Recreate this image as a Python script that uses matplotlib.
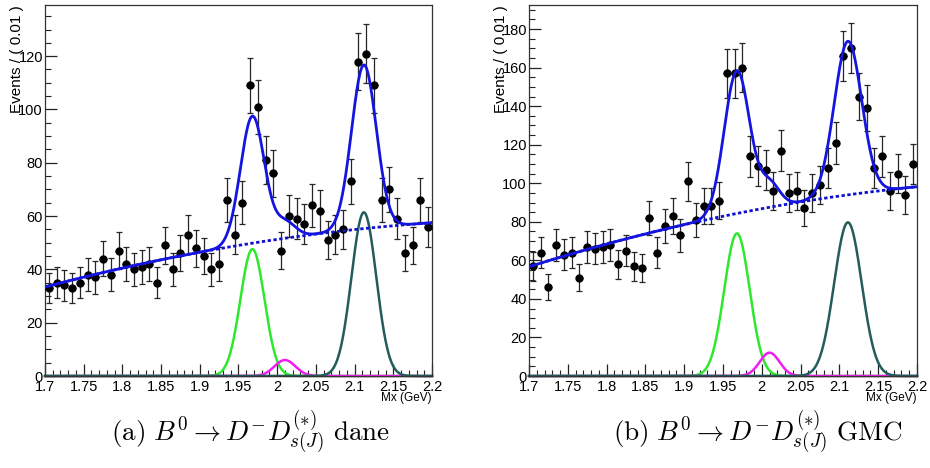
import numpy as np
import matplotlib
matplotlib.use("Agg")
import matplotlib.pyplot as plt
from matplotlib.ticker import MultipleLocator, FixedLocator

plt.rcParams['font.family'] = ['Liberation Sans', 'DejaVu Sans']
plt.rcParams['mathtext.fontset'] = 'cm'

# Histogram binning of the Mx spectrum
mx_min, mx_max, n_bins = 1.7, 2.2, 50

# Events per 0.01 GeV bin
counts_dane = [33, 35, 34, 33, 35, 38, 37, 44, 38, 47,
               42, 40, 41, 42, 35, 49, 40, 46, 53, 48,
               45, 40, 42, 66, 53, 65, 109, 101, 81, 76,
               47, 60, 59, 57, 64, 62, 51, 53, 55, 73,
               118, 121, 109, 66, 70, 59, 46, 49, 66, 56]

counts_gmc = [57, 64, 46, 68, 63, 64, 51, 67, 66, 67,
              68, 58, 65, 57, 56, 82, 64, 78, 83, 73,
              101, 81, 88, 88, 91, 157, 157, 160, 114, 109,
              107, 96, 117, 95, 96, 87, 95, 99, 108, 121,
              166, 170, 145, 139, 108, 114, 96, 105, 94, 110]

# Fit model: quadratic background in (Mx - 1.7) plus three Gaussian peaks
bkg_dane = [33.4, 76.6, -56.8]
bkg_gmc = [56.7, 126.5, -87.0]

# (mean, sigma, height) for the Ds, Ds* reflection and Ds(J) components
peaks_dane = {"ds": (1.968, 0.0155, 47.6),
              "refl": (2.010, 0.0135, 6.0),
              "dsj": (2.112, 0.0160, 61.4)}
peaks_gmc = {"ds": (1.968, 0.0164, 74.0),
             "refl": (2.010, 0.0128, 12.1),
             "dsj": (2.111, 0.0177, 79.7)}

y_max_dane = 139.2
y_max_gmc = 192.5

captions = [r"$\mathrm{(a)}\ B^0 \rightarrow D^{-} D_{s(J)}^{(*)}\ \mathrm{dane}$",
            r"$\mathrm{(b)}\ B^0 \rightarrow D^{-} D_{s(J)}^{(*)}\ \mathrm{GMC}$"]

comp_colors = {"ds": "#2ee82e", "refl": "#f01ef0", "dsj": "#245c5c"}


def gauss(x, mu, sig, h):
    return h * np.exp(-0.5 * ((x - mu) / sig) ** 2)


def draw_panel(ax, counts, bkg, peaks, ymax):
    edges = np.linspace(mx_min, mx_max, n_bins + 1)
    centers = 0.5 * (edges[:-1] + edges[1:])
    half = 0.5 * (edges[1] - edges[0])
    n = np.asarray(counts, dtype=float)
    err = np.sqrt(n)

    xs = np.linspace(mx_min, mx_max, 800)
    u = xs - mx_min
    b = bkg[0] + bkg[1] * u + bkg[2] * u ** 2

    comps = {k: gauss(xs, *v) for k, v in peaks.items()}
    total = b + sum(comps.values())

    # data points
    ax.errorbar(centers, n, yerr=err, fmt='none', ecolor='#262626',
                elinewidth=0.9, capsize=2.0, capthick=0.9, zorder=3)
    ax.hlines(n, centers - half, centers + half, colors='#1a1a1a',
              linewidth=0.9, zorder=3)
    ax.plot(centers, n, 'o', color='black', markersize=5.0, zorder=4)

    # component curves
    for k in ["ds", "refl", "dsj"]:
        ax.plot(xs, comps[k], color=comp_colors[k], linewidth=1.8,
                zorder=2, clip_on=False)

    ax.plot(xs, b, color='#1010d0', linewidth=2.0,
            linestyle=(0, (1.2, 0.9)), zorder=5)
    ax.plot(xs, total, color='#1515e0', linewidth=2.0, zorder=6)

    ax.set_xlim(mx_min, mx_max)
    ax.set_ylim(0, ymax)
    ax.xaxis.set_major_locator(FixedLocator(np.round(np.arange(1.7, 2.2001, 0.05), 2)))
    ax.xaxis.set_minor_locator(MultipleLocator(0.01))
    ax.yaxis.set_major_locator(MultipleLocator(20))
    ax.yaxis.set_minor_locator(MultipleLocator(5))
    ax.set_xticklabels(["1.7", "1.75", "1.8", "1.85", "1.9", "1.95",
                        "2", "2.05", "2.1", "2.15", "2.2"])
    ax.tick_params(axis='both', which='both', direction='in',
                   top=False, right=False, labelsize=10.5, color='#222222')
    ax.tick_params(axis='both', which='major', length=8.5, width=0.9)
    ax.tick_params(axis='both', which='minor', length=4.3, width=0.8)
    ax.tick_params(axis='x', which='major', pad=3)
    ax.tick_params(axis='y', which='major', pad=1.5)
    for s in ax.spines.values():
        s.set_linewidth(0.9)
        s.set_color('#333333')


fig = plt.figure(figsize=(9.3, 4.68), dpi=100)
W, H = 930.0, 468.0

ax1 = fig.add_axes([45 / W, 1 - 376 / H, 387 / W, 371 / H])
ax2 = fig.add_axes([529 / W, 1 - 376 / H, 388 / W, 371 / H])

draw_panel(ax1, counts_dane, bkg_dane, peaks_dane, y_max_dane)
draw_panel(ax2, counts_gmc, bkg_gmc, peaks_gmc, y_max_gmc)

for x_lab, x_right, x_mid, cap in [(17.5, 432, 251, captions[0]),
                                   (501, 917, 758, captions[1])]:
    fig.text(x_lab / W, 1 - 5 / H, "Events / ( 0.01 )", rotation=90,
             ha='center', va='top', fontsize=11)
    fig.text(x_right / W, 1 - 398 / H, "Mx (GeV)", ha='right', va='center',
             fontsize=8.5)
    fig.text(x_mid / W, 1 - 432 / H, cap, ha='center', va='center',
             fontsize=19.5)

fig.savefig("out.png", dpi=100)
